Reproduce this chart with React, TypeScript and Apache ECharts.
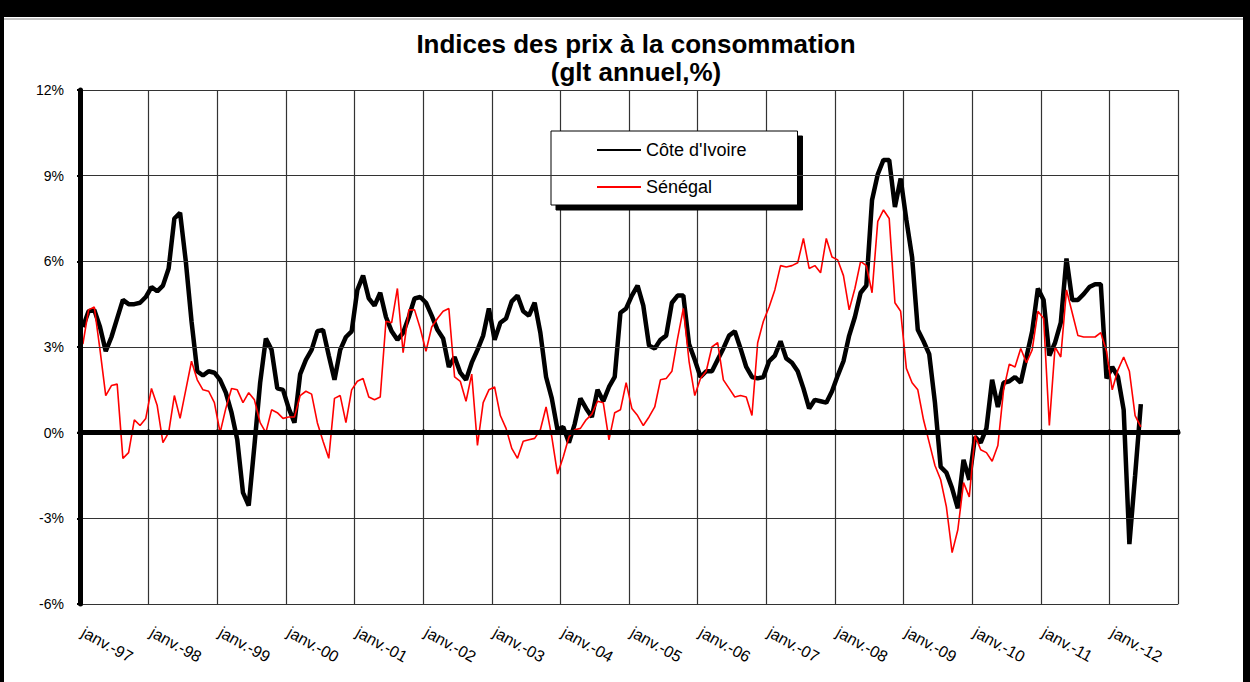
import React, { useEffect, useRef } from "react";
import * as echarts from "echarts";

const monthNames = ["janv.", "févr.", "mars", "avr.", "mai", "juin", "juil.", "août", "sept.", "oct.", "nov.", "déc."];
const yearLabels = ["97", "98", "99", "00", "01", "02", "03", "04", "05", "06", "07", "08", "09", "10", "11", "12"];
const categories: string[] = [];
yearLabels.forEach((y) => monthNames.forEach((m) => categories.push(`${m}-${y}`)));

// Côte d'Ivoire, glissement annuel (%), janv.-97 .. juin-12
const coteDIvoire = [
  3.7, 4.25, 4.3, 3.7, 2.85, 3.35, 4.0, 4.65, 4.5, 4.5, 4.55, 4.75,
  5.1, 4.95, 5.15, 5.75, 7.5, 7.7, 6.0, 3.9, 2.15, 2.0, 2.15, 2.1,
  1.85, 1.4, 0.7, -0.25, -2.1, -2.55, -0.45, 1.75, 3.3, 2.9, 1.55, 1.5,
  0.85, 0.35, 2.05, 2.55, 2.9, 3.55, 3.6, 2.7, 1.85, 2.9, 3.35, 3.55,
  5.0, 5.5, 4.7, 4.45, 4.9, 4.05, 3.55, 3.25, 3.5, 4.05, 4.7, 4.75,
  4.55, 4.1, 3.6, 3.3, 2.3, 2.65, 2.1, 1.85, 2.45, 2.9, 3.4, 4.35,
  3.25, 3.85, 4.0, 4.6, 4.8, 4.25, 4.1, 4.55, 3.5, 1.95, 1.2, 0.1,
  0.2, -0.35, 0.3, 1.2, 0.85, 0.55, 1.5, 1.1, 1.6, 1.95, 4.2, 4.35,
  4.8, 5.15, 4.45, 3.05, 2.95, 3.25, 3.4, 4.55, 4.8, 4.8, 3.1, 2.55,
  1.95, 2.15, 2.15, 2.55, 2.95, 3.4, 3.55, 2.95, 2.3, 1.95, 1.9, 1.95,
  2.5, 2.7, 3.2, 2.6, 2.45, 2.15, 1.55, 0.85, 1.15, 1.1, 1.05, 1.45,
  2.0, 2.5, 3.4, 4.05, 4.9, 5.15, 8.15, 9.05, 9.55, 9.55, 7.9, 8.9,
  7.45, 6.15, 3.6, 3.2, 2.75, 1.05, -1.2, -1.4, -1.95, -2.65, -0.95, -1.65,
  -0.15, -0.35, 0.15, 1.85, 0.9, 1.75, 1.8, 1.95, 1.75, 2.65, 3.55, 5.05,
  4.65, 2.7, 3.15, 3.85, 6.1, 4.65, 4.65, 4.85, 5.1, 5.2, 5.2, 1.9,
  2.3, 1.95, 0.8, -3.9, -1.5, 1.0,
];

// Sénégal, glissement annuel (%), janv.-97 .. juin-12
const senegal = [
  3.1, 4.3, 4.4, 2.9, 1.3, 1.65, 1.7, -0.9, -0.7, 0.45, 0.25, 0.5,
  1.55, 0.95, -0.35, 0.0, 1.3, 0.5, 1.5, 2.5, 1.85, 1.5, 1.45, 1.05,
  0.0, 0.85, 1.55, 1.5, 1.05, 1.4, 1.15, 0.35, 0.0, 0.8, 0.7, 0.5,
  0.55, 0.55, 1.3, 1.45, 1.35, 0.35, -0.3, -0.9, 1.2, 1.3, 0.35, 1.5,
  1.8, 1.9, 1.25, 1.15, 1.25, 3.9, 3.85, 5.05, 2.8, 4.3, 4.3, 3.65,
  2.85, 3.7, 4.0, 4.25, 4.35, 1.95, 1.8, 1.1, 2.05, -0.45, 1.05, 1.5,
  1.6, 0.6, 0.15, -0.55, -0.9, -0.3, -0.25, -0.2, 0.1, 0.9, -0.15, -1.45,
  -0.85, -0.15, 0.1, 0.15, 0.45, 0.65, 1.1, 1.05, -0.25, 0.7, 0.8, 1.75,
  0.85, 0.6, 0.25, 0.55, 0.9, 1.85, 1.9, 2.15, 3.3, 4.35, 2.5, 1.3,
  1.9, 2.15, 3.0, 3.15, 1.85, 1.55, 1.25, 1.3, 1.25, 0.6, 3.15, 3.9,
  4.4, 5.0, 5.85, 5.8, 5.85, 5.95, 6.8, 5.75, 5.85, 5.6, 6.8, 6.15,
  6.05, 5.5, 4.3, 5.05, 6.0, 5.85, 4.9, 7.4, 7.8, 7.5, 4.55, 4.25,
  2.25, 1.75, 1.5, 0.45, -0.35, -1.15, -1.65, -2.6, -4.2, -3.4, -1.75, -2.25,
  -0.1, -0.6, -0.7, -1.0, -0.45, 1.5, 2.4, 2.3, 2.95, 2.45, 2.9, 4.25,
  4.0, 0.25, 3.0, 2.65, 5.0, 4.2, 3.4, 3.35, 3.35, 3.35, 3.5, 2.85,
  1.5, 2.2, 2.65, 2.15, 0.6, 0.2,
];

const seriesNames = ["Côte d'Ivoire", "Sénégal"];
const titleText = "Indices des prix à la consommation\n(glt annuel,%)";
const yMin = -6;
const yMax = 12;
const yStep = 3;

const FONT = '"Liberation Sans", Arial, sans-serif';

export default function App() {
  const ref = useRef<HTMLDivElement>(null);
  useEffect(() => {
    if (!ref.current) return;
    const chart = echarts.init(ref.current, undefined, { renderer: "svg" });
    const isJan = (i: number) => i % 12 === 0;
    chart.setOption({
      animation: false,
      backgroundColor: "#fff",
      textStyle: { fontFamily: FONT },
      graphic: [
        { type: "rect", shape: { x: 0, y: 0, width: 1250, height: 17 }, style: { fill: "#000" } },
        { type: "rect", shape: { x: 0, y: 17, width: 4, height: 665 }, style: { fill: "#000" } },
        { type: "rect", shape: { x: 1243, y: 17, width: 7, height: 665 }, style: { fill: "#000" } },
        { type: "line", shape: { x1: 4, y1: 19, x2: 1243, y2: 19 }, style: { stroke: "#888", lineWidth: 1 } },
        {
          type: "text", x: 636, y: 58,
          style: {
            text: titleText, font: `bold 26px ${FONT}`, fill: "#000",
            textAlign: "center", textVerticalAlign: "middle", lineHeight: 28,
          },
        },
      ],
      legend: {
        orient: "vertical",
        left: 551,
        top: 131,
        padding: [10, 51, 9, 45],
        itemWidth: 44,
        itemHeight: 14,
        itemGap: 19,
        backgroundColor: "#fff",
        borderColor: "#000",
        borderWidth: 1,
        borderRadius: 0,
        shadowColor: "#000",
        shadowBlur: 0,
        shadowOffsetX: 5,
        shadowOffsetY: 5,
        itemStyle: { opacity: 0 },
        textStyle: { fontSize: 18, color: "#000", fontFamily: FONT },
        data: seriesNames,
      },
      grid: { left: 80, right: 72, top: 90, bottom: 78, show: false },
      xAxis: [
        {
          type: "category",
          data: categories,
          boundaryGap: true,
          position: "bottom",
          axisLine: { show: true, onZero: false, lineStyle: { color: "#555", width: 1 } },
          axisTick: { show: false },
          axisLabel: {
            interval: (i: number) => isJan(i),
            rotate: -29,
            margin: 27,
            fontSize: 16,
            color: "#000",
            fontFamily: FONT,
          },
          splitLine: { show: true, interval: (i: number) => isJan(i), lineStyle: { color: "#333", width: 1.2 } },
        },
        {
          type: "category",
          data: categories,
          boundaryGap: true,
          position: "top",
          z: 5,
          axisLine: { show: true, onZero: true, lineStyle: { color: "#000", width: 5 } },
          axisTick: { show: true, interval: (i: number) => isJan(i), length: 3, lineStyle: { color: "#000", width: 3 } },
          axisLabel: { show: false },
          splitLine: { show: false },
        },
      ],
      yAxis: {
        type: "value",
        min: yMin,
        max: yMax,
        interval: yStep,
        z: 5,
        axisLine: { show: true, lineStyle: { color: "#000", width: 5 } },
        axisTick: { show: true, length: 3, lineStyle: { color: "#000", width: 2 } },
        axisLabel: { formatter: (v: number) => `${v}%`, fontSize: 14, color: "#000", margin: 16, fontFamily: FONT },
        splitLine: { show: true, lineStyle: { color: "#333", width: 1.2 } },
      },
      series: [
        {
          name: seriesNames[0],
          type: "line",
          data: coteDIvoire,
          symbol: "none",
          lineStyle: { color: "#000", width: 4.5 },
          itemStyle: { color: "#000" },
          z: 2,
        },
        {
          name: seriesNames[1],
          type: "line",
          data: senegal,
          symbol: "none",
          lineStyle: { color: "#ff0000", width: 1.6 },
          itemStyle: { color: "#ff0000" },
          z: 3,
        },
      ],
    });
    return () => chart.dispose();
  }, []);
  return <div ref={ref} style={{ position: "fixed", left: 0, top: 0, width: 1250, height: 682 }} />;
}
